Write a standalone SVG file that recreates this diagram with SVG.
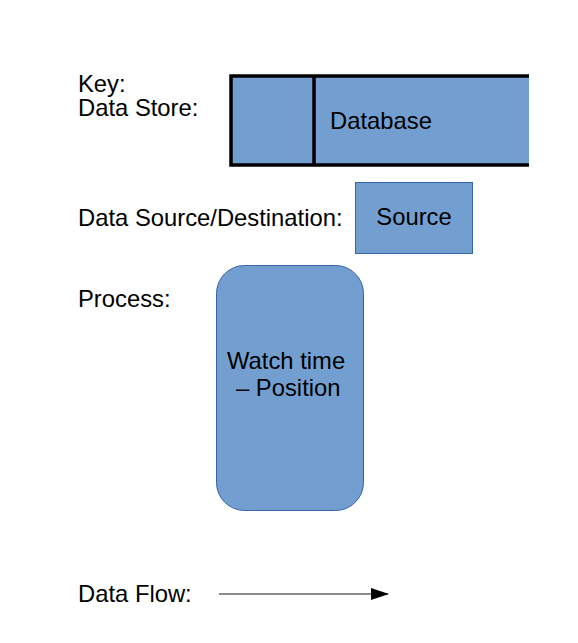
<svg xmlns="http://www.w3.org/2000/svg" width="578" height="643" viewBox="0 0 578 643">
<style>
.lbl{font-family:"Liberation Sans",Arial,sans-serif;font-size:23.8px;fill:#000}
.fill{fill:#729fcf}
.edge{stroke:#3465a4;stroke-width:1}
.store{stroke:#000;stroke-width:3.5;fill:none}
</style>
<defs>
<marker id="ah" markerWidth="18" markerHeight="12" refX="17" refY="6" orient="auto" markerUnits="userSpaceOnUse">
<path d="M0,0 L18,6 L0,12 Z" fill="#000"/>
</marker>
</defs>
<rect width="578" height="643" fill="#fff"/>
<g id="key-labels">
<text class="lbl" x="78" y="92">Key:</text>
<text class="lbl" x="78" y="116">Data Store:</text>
<text class="lbl" x="78" y="226">Data Source/Destination:</text>
<text class="lbl" x="78" y="307">Process:</text>
<text class="lbl" x="78" y="602">Data Flow:</text>
</g>
<g id="datastore">
<rect class="fill" x="231" y="76" width="298" height="89"/>
<path class="store" d="M529,76 H231 V165 H529 M314,76 V165"/>
<text class="lbl" x="330" y="129">Database</text>
</g>
<g id="source">
<rect class="fill edge" x="355.5" y="182.5" width="117" height="71"/>
<text class="lbl" x="414" y="225" text-anchor="middle">Source</text>
</g>
<g id="process">
<rect class="fill edge" x="216.5" y="265.5" width="147" height="245" rx="28" ry="28"/>
<text class="lbl" x="227" y="369">Watch time</text>
<text class="lbl" x="236" y="396">– Position</text>
</g>
<g id="connectors">
<line x1="219" y1="594" x2="388" y2="594" stroke="#666" stroke-width="1.5" marker-end="url(#ah)"/>
</g>
</svg>
